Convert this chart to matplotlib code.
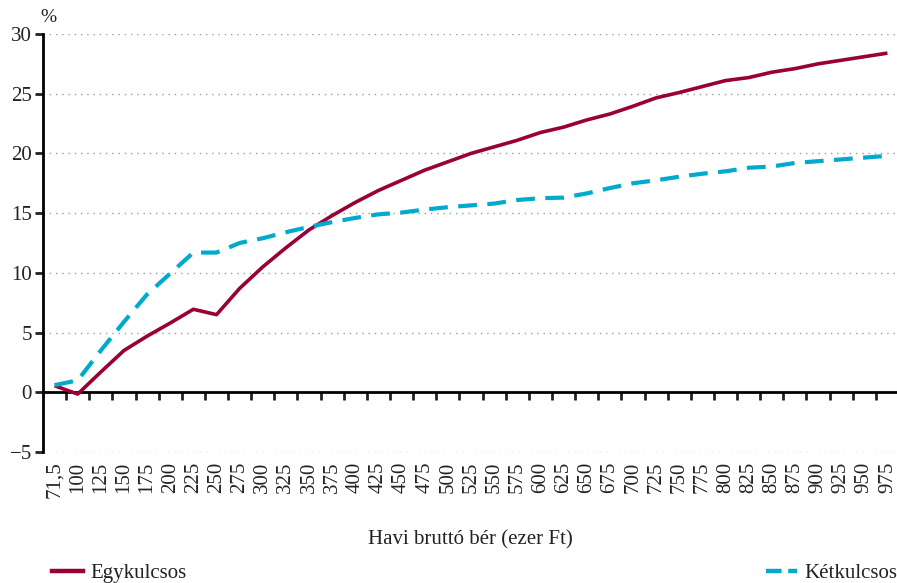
import numpy as np
import matplotlib.pyplot as plt
from matplotlib.lines import Line2D

plt.rcParams['font.family'] = ['Liberation Serif', 'DejaVu Serif']

# categories (havi bruttó bér, ezer Ft)
categories = ['71,5'] + [str(v) for v in range(100, 1000, 25)]

egykulcsos = [0.55, -0.15, 1.7, 3.5, 4.7, 5.8, 6.95, 6.5, 8.7, 10.5,
              12.1, 13.6, 14.8, 15.9, 16.9, 17.75, 18.6, 19.3, 20.0, 20.55,
              21.1, 21.75, 22.2, 22.8, 23.3, 23.95, 24.65, 25.1, 25.6, 26.1,
              26.35, 26.8, 27.1, 27.5, 27.8, 28.1, 28.4]
ketkulcsos = [0.6, 1.0, 3.5, 5.9, 8.2, 9.95, 11.7, 11.7, 12.5, 12.9,
              13.4, 13.85, 14.25, 14.6, 14.9, 15.05, 15.3, 15.5, 15.65, 15.8,
              16.1, 16.25, 16.3, 16.65, 17.1, 17.5, 17.75, 18.05, 18.3, 18.5,
              18.8, 18.9, 19.2, 19.35, 19.5, 19.65, 19.8]

yticks = [-5, 0, 5, 10, 15, 20, 25, 30]

red = '#990033'
blue = '#00aacc'
fs = 15

fig = plt.figure(figsize=(8.97, 5.83), dpi=100)
ax = fig.add_axes([43 / 897, 1 - 452 / 583, 856 / 897, (452 - 34) / 583])

x = np.arange(len(categories))
ax.plot(x, egykulcsos, color=red, lw=2.6, solid_capstyle='butt', zorder=3)
ax.plot(x, ketkulcsos, color=blue, lw=3.0, dashes=(4.5, 2.5), zorder=3)

ax.set_xlim(-0.5, len(categories) - 0.5)
ax.set_ylim(-5, 30)

# grid
for yv in yticks:
    if yv != 0:
        ax.axhline(yv, color='#999999', lw=1.0, ls=(0, (1, 3.5)), zorder=1)

for s in ['top', 'right']:
    ax.spines[s].set_visible(False)
ax.spines['left'].set_linewidth(2.0)
ax.spines['bottom'].set_position(('data', 0))
ax.spines['bottom'].set_linewidth(2.0)

ax.set_yticks(yticks)
ax.set_yticklabels(['\u22125' if v < 0 else str(v) for v in yticks], fontsize=fs)
ax.tick_params(axis='y', direction='out', length=6, width=2, pad=2, colors='#222222')

# tick marks between categories on zero axis
ax.set_xticks(np.arange(0.5, len(categories) - 0.5, 1.0))
ax.set_xticklabels([])
ax.tick_params(axis='x', direction='out', length=6, width=2, color='#222222')

# labels at bottom
sec = ax.secondary_xaxis(0)
sec.set_xticks(x)
sec.set_xticklabels(categories, rotation=90, fontsize=fs, color='#222222')
sec.tick_params(length=0, pad=7)
sec.spines['bottom'].set_visible(False)

fig.text(470 / 897, 1 - 540 / 583, 'Havi bruttó bér (ezer Ft)', ha='center', va='center',
         fontsize=fs, color='#222222')
fig.text(40 / 897, 1 - 17 / 583, '%', ha='left', va='center', fontsize=fs - 1, color='#222222')

h1 = Line2D([], [], color=red, lw=3.2)
h2 = Line2D([], [], color=blue, lw=3.2, dashes=(3.5, 1.5))
fig.legend([h1], ['Egykulcsos'], loc='center left', bbox_to_anchor=(52 / 897, 1 - 573 / 583),
           frameon=False, fontsize=fs, handlelength=1.5, handletextpad=0.35, borderpad=0,
           borderaxespad=0, labelcolor='#222222')
fig.legend([h2], ['Kétkulcsos'], loc='center left', bbox_to_anchor=(766 / 897, 1 - 573 / 583),
           frameon=False, fontsize=fs, handlelength=1.5, handletextpad=0.35, borderpad=0,
           borderaxespad=0, labelcolor='#222222')

fig.savefig('out.png', dpi=100)
